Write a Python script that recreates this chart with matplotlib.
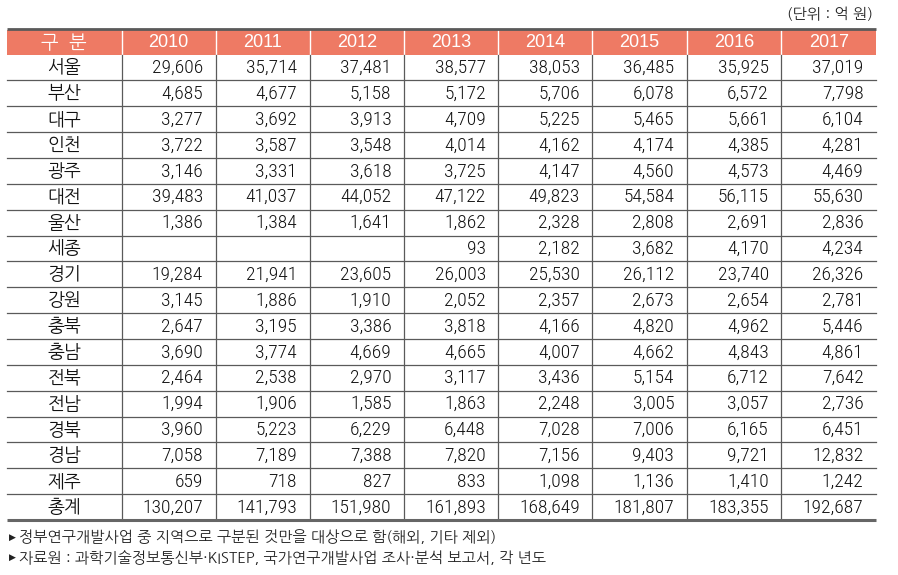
import matplotlib
matplotlib.use("Agg")
import matplotlib.pyplot as plt
from matplotlib.patches import Rectangle

regions = ["서울", "부산", "대구", "인천", "광주", "대전", "울산", "세종", "경기", "강원",
           "충북", "충남", "전북", "전남", "경북", "경남", "제주", "총계"]
years = ["2010", "2011", "2012", "2013", "2014", "2015", "2016", "2017"]
values = [
    [29606, 35714, 37481, 38577, 38053, 36485, 35925, 37019],
    [4685, 4677, 5158, 5172, 5706, 6078, 6572, 7798],
    [3277, 3692, 3913, 4709, 5225, 5465, 5661, 6104],
    [3722, 3587, 3548, 4014, 4162, 4174, 4385, 4281],
    [3146, 3331, 3618, 3725, 4147, 4560, 4573, 4469],
    [39483, 41037, 44052, 47122, 49823, 54584, 56115, 55630],
    [1386, 1384, 1641, 1862, 2328, 2808, 2691, 2836],
    [None, None, None, 93, 2182, 3682, 4170, 4234],
    [19284, 21941, 23605, 26003, 25530, 26112, 23740, 26326],
    [3145, 1886, 1910, 2052, 2357, 2673, 2654, 2781],
    [2647, 3195, 3386, 3818, 4166, 4820, 4962, 5446],
    [3690, 3774, 4669, 4665, 4007, 4662, 4843, 4861],
    [2464, 2538, 2970, 3117, 3436, 5154, 6712, 7642],
    [1994, 1906, 1585, 1863, 2248, 3005, 3057, 2736],
    [3960, 5223, 6229, 6448, 7028, 7006, 6165, 6451],
    [7058, 7189, 7388, 7820, 7156, 9403, 9721, 12832],
    [659, 718, 827, 833, 1098, 1136, 1410, 1242],
    [130207, 141793, 151980, 161893, 168649, 181807, 183355, 192687],
]
header_label = "구  분"
unit_text = "(단위 : 억 원)"
notes = ["정부연구개발사업 중 지역으로 구분된 것만을 대상으로 함(해외, 기타 제외)",
         "자료원 : 과학기술정보통신부·KISTEP, 국가연구개발사업 조사·분석 보고서, 각 년도"]

num_family = ["Roboto Condensed", "Liberation Sans"]
kr = ["NanumGothic", "Noto Sans CJK KR", "DejaVu Sans"]

fig = plt.figure(figsize=(8.98, 5.75), dpi=100)
ax = fig.add_axes([0, 0, 1, 1])
ax.set_xlim(0, 898)
ax.set_ylim(575, 0)
ax.axis("off")

left, right = 7, 876
col_edges = [7, 121.5, 215.5, 309.5, 404, 498.3, 592.3, 686.7, 781.3, 876]
head_top, head_bot = 30, 54.5
table_bot = 520
nrows = len(regions)
rh = (table_bot - head_bot) / nrows

hdr_color = "#EE7A64"
line_color = "#5a5a5a"

# header
ax.add_patch(Rectangle((left, head_top), right - left, head_bot - head_top,
                       facecolor=hdr_color, edgecolor="none", zorder=1))
ax.plot([left, right], [head_top - 1, head_top - 1], color="#5a5a5a", lw=2.0, zorder=3,
        solid_capstyle="butt")
for x in col_edges[1:-1]:
    ax.plot([x, x], [head_top, head_bot], color="white", lw=1.0, zorder=2)
hy = (head_top + head_bot) / 2
ax.text((col_edges[0] + col_edges[1]) / 2, hy + 0.5, header_label, ha="center", va="center",
        color="white", fontsize=13.5, family=kr)
for j, yr in enumerate(years):
    ax.text((col_edges[j + 1] + col_edges[j + 2]) / 2, hy + 0.5, yr, ha="center", va="center",
            color="white", fontsize=13, family=["Liberation Sans"])

# grid
for i in range(1, nrows):
    y = head_bot + i * rh
    ax.plot([left, right], [y, y], color=line_color, lw=0.9, zorder=2)
for x in col_edges[1:-1]:
    ax.plot([x, x], [head_bot, table_bot], color=line_color, lw=0.9, zorder=2)
ax.plot([left, right], [table_bot, table_bot], color="#666666", lw=2.2, zorder=3,
        solid_capstyle="butt")

# cells
for i, reg in enumerate(regions):
    yc = head_bot + (i + 0.5) * rh + 0.5
    ax.text((col_edges[0] + col_edges[1]) / 2, yc, reg, ha="center", va="center",
            fontsize=13, family=kr, color="#111111")
    for j, v in enumerate(values[i]):
        if v is None:
            continue
        ax.text(col_edges[j + 2] - 12.5, yc, f"{v:,}", ha="right", va="center",
                fontsize=14, family=num_family, fontweight="light", color="#111111")

# unit and notes
ax.text(873, 14, unit_text, ha="right", va="center", fontsize=11, family=kr, color="#222222")
for k, note in enumerate(notes):
    y = 537 + k * 20.5
    ax.text(9, y, "▶", ha="left", va="center", fontsize=6.5, family=["DejaVu Sans"], color="#222222")
    ax.text(19, y, note, ha="left", va="center", fontsize=10.9, family=kr, color="#222222")

fig.savefig("out.png", dpi=100)
